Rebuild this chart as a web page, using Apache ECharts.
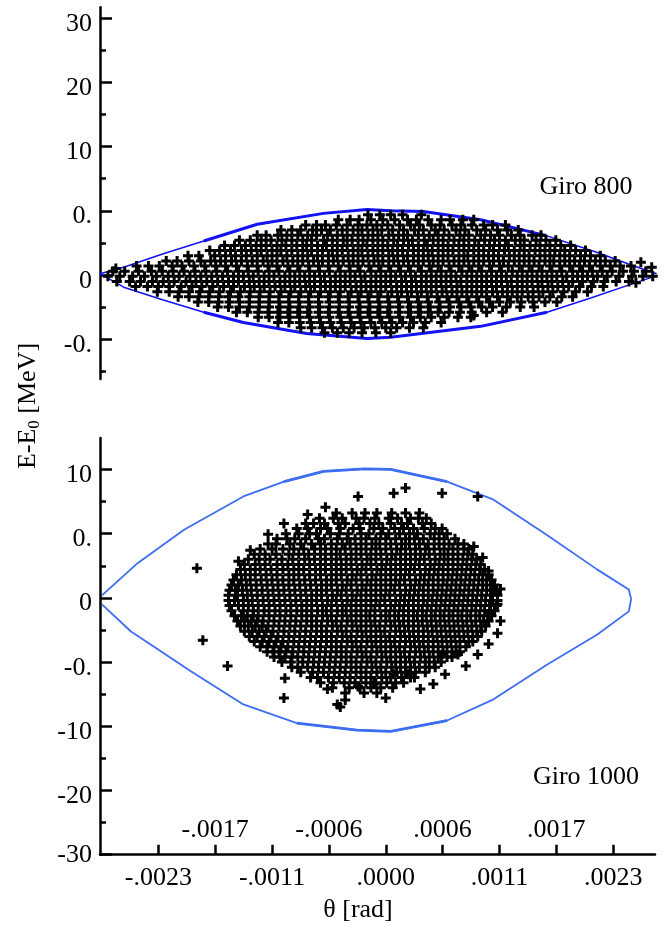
<!DOCTYPE html>
<html>
<head>
<meta charset="utf-8">
<script src="https://cdn.jsdelivr.net/npm/echarts@6/dist/echarts.min.js"></script>
<style>
  html, body { margin: 0; padding: 0; background: #fff; }
  #chart { width: 671px; height: 938px; }
</style>
</head>
<body>
<div id="chart"></div>
<script>
// x is theta in units of 1e-4 rad; y is in panel "slots" (one labelled tick per unit)
const xTickValues = [-23, -17.25, -11.5, -5.75, 0, 5.75, 11.5, 17.25, 23]
const xBelowValues = [-23, -11.5, 0, 11.5, 23]
const xBelowLabels = ['-.0023', '-.0011', '.0000', '.0011', '.0023']
const xAboveValues = [-17.25, -5.75, 5.75, 17.25]
const xAboveLabels = ['-.0017', '-.0006', '.0006', '.0017']

const yTopValues = [-1, 0, 1, 2, 3, 4]
const yTopLabels = ['-0.', '0', '0.', '10', '20', '30']
const yTopMinor = [-1.5, -0.5, 0.5, 1.5, 2.5, 3.5]
const yBotValues = [-4, -3, -2, -1, 0, 1, 2]
const yBotLabels = ['-30', '-20', '-10', '-0.', '0', '0.', '10']
const yBotMinor = [-3.5, -2.5, -1.5, -0.5, 0.5, 1.5]

// separatrix curves
const env800Upper = [[-28.9, 0.02], [-26.5, 0.12], [-22.5, 0.33], [-18.4, 0.53], [-13, 0.79], [-6.3, 0.96], [-1.9, 1.02], [0.5, 1.0], [3.8, 0.99], [9.6, 0.86], [16.3, 0.61], [21.4, 0.35], [25.1, 0.14], [27.4, 0.02]]
const env800Lower = [[-28.9, 0.02], [-26.5, -0.19], [-22.5, -0.39], [-18.4, -0.58], [-14.4, -0.74], [-8, -0.91], [-1.9, -0.99], [0.5, -0.97], [9.6, -0.8], [16.3, -0.58], [20.5, -0.37], [24.7, -0.15], [27.4, -0.01]]
const env1000Upper = [[-28.7, 0.04], [-25.1, 0.54], [-20.4, 1.06], [-14.4, 1.58], [-10.3, 1.81], [-6.3, 1.97], [-2.2, 2.01], [0.5, 2.0], [6.2, 1.81], [10.9, 1.53], [16.3, 0.98], [21.4, 0.44], [24.58, 0.13], [24.82, -0.02]]
const env1000Lower = [[-28.7, -0.1], [-25.8, -0.52], [-19.75, -1.14], [-14.4, -1.66], [-9.0, -1.95], [-2.9, -2.06], [0.5, -2.08], [6.2, -1.91], [10.9, -1.58], [16.3, -1.04], [21.4, -0.57], [24.58, -0.21], [24.82, -0.02]]

// Giro 800 particles, by row: [y, [x, x, ...]]
const giro800Rows = [
  [0.94, [-1.8, -0.6, 0.5, 1.7, 3.6]],
  [0.86, [-4.8, -3.6, -2.7, -1.5, -0.3, 0.9, 2.2, 3.1, 4.3, 5.6, 6.5, 7.8, 8.9]],
  [0.78, [-8.1, -7.0, -6.1, -5.0, -3.9, -2.8, -1.9, -0.9, 0.2, 1.4, 2.5, 3.4, 4.6, 5.5, 6.7, 7.6, 8.7, 9.9, 10.8, 12.1]],
  [0.70, [-10.6, -9.5, -8.6, -7.4, -6.5, -5.6, -4.4, -3.3, -2.4, -1.3, -0.4, 0.7, 1.8, 2.9, 3.8, 5.0, 5.9, 7.1, 8.0, 9.2, 10.1, 11.3, 12.3, 13.4]],
  [0.62, [-13.0, -12.1, -10.9, -10.0, -8.9, -7.9, -7.0, -5.9, -4.9, -3.9, -2.8, -1.8, -0.8, 0.3, 1.3, 2.2, 3.3, 4.4, 5.3, 6.4, 7.5, 8.4, 9.6, 10.6, 11.5, 12.7, 13.6, 14.8, 15.7]],
  [0.54, [-14.8, -13.7, -12.6, -11.6, -10.5, -9.5, -8.4, -7.5, -6.3, -5.4, -4.3, -3.4, -2.3, -1.3, -0.3, 0.8, 1.8, 2.7, 3.9, 4.8, 5.8, 6.9, 7.9, 9.0, 10.0, 11.0, 12.1, 13.1, 14.0, 15.2, 16.2, 17.2]],
  [0.46, [-16.3, -15.3, -14.2, -13.1, -12.1, -11.0, -10.1, -9.0, -8.0, -6.9, -6.0, -4.9, -3.9, -2.8, -1.9, -0.8, 0.2, 1.2, 2.3, 3.3, 4.2, 5.3, 6.3, 7.4, 8.4, 9.4, 10.5, 11.5, 12.4, 13.6, 14.6, 15.6, 16.6, 17.7, 18.7]],
  [0.38, [-17.8, -16.8, -15.7, -14.6, -13.6, -12.6, -11.5, -10.6, -9.5, -8.4, -7.5, -6.4, -5.4, -4.4, -3.3, -2.4, -1.3, -0.3, 0.7, 1.7, 2.8, 3.8, 4.7, 5.8, 6.8, 7.9, 8.9, 9.9, 10.9, 12.0, 13.0, 14.0, 15.1, 16.1, 17.1, 18.1, 19.2, 20.2]],
  [0.30, [-20.0, -18.9, -17.3, -16.2, -15.2, -14.1, -13.0, -12.0, -11.0, -10.0, -8.9, -7.9, -6.9, -5.8, -4.9, -3.8, -2.8, -1.8, -0.8, 0.3, 1.2, 2.2, 3.3, 4.3, 5.3, 6.3, 7.4, 8.3, 9.4, 10.4, 11.4, 12.5, 13.5, 14.5, 15.6, 16.6, 17.6, 18.6, 19.7, 20.7, 21.7]],
  [0.22, [-22.2, -21.1, -19.9, -18.7, -17.7, -16.7, -15.6, -14.6, -13.5, -12.4, -11.5, -10.4, -9.4, -8.4, -7.3, -6.4, -5.3, -4.3, -3.3, -2.3, -1.2, -0.3, 0.8, 1.8, 2.8, 3.8, 4.8, 5.8, 6.9, 7.9, 8.9, 9.9, 10.9, 11.9, 13.0, 14.0, 15.0, 16.1, 17.0, 18.1, 19.1, 20.1, 21.2, 22.2, 23.2]],
  [0.14, [-25.2, -24.0, -22.9, -21.6, -20.6, -19.4, -18.3, -17.2, -16.2, -15.1, -14.0, -13.0, -11.9, -11.0, -9.9, -8.9, -7.8, -6.8, -5.8, -4.8, -3.7, -2.8, -1.7, -0.7, 0.3, 1.3, 2.3, 3.3, 4.4, 5.3, 6.4, 7.4, 8.4, 9.4, 10.5, 11.5, 12.4, 13.5, 14.5, 15.5, 16.6, 17.6, 18.6, 19.6, 20.6, 21.7, 22.7, 23.7, 24.8]],
  [0.06, [-27.6, -26.4, -25.0, -23.7, -22.6, -21.5, -20.4, -19.3, -18.2, -17.1, -16.0, -14.9, -13.9, -12.9, -11.8, -10.8, -9.7, -8.7, -7.7, -6.7, -5.7, -4.6, -3.6, -2.6, -1.5, -0.5, 0.5, 1.5, 2.5, 3.6, 4.6, 5.6, 6.6, 7.7, 8.7, 9.7, 10.7, 11.7, 12.8, 13.8, 14.8, 15.8, 16.8, 17.8, 18.9, 19.9, 20.9, 21.9, 22.9, 24.0, 25.1, 26.3]],
  [-0.02, [-28.1, -26.9, -25.6, -24.4, -23.2, -22.0, -20.9, -19.8, -18.7, -17.6, -16.5, -15.4, -14.4, -13.4, -12.3, -11.3, -10.2, -9.2, -8.2, -7.2, -6.2, -5.1, -4.1, -3.1, -2.1, -1.0, 0.0, 1.0, 2.0, 3.0, 4.1, 5.1, 6.1, 7.1, 8.2, 9.2, 10.2, 11.2, 12.2, 13.3, 14.3, 15.3, 16.3, 17.3, 18.3, 19.4, 20.4, 21.4, 22.4, 23.6, 24.9, 26.0, 27.0]],
  [-0.10, [-27.2, -25.9, -24.8, -23.6, -22.5, -21.4, -20.2, -19.2, -18.1, -17.0, -15.9, -14.9, -13.8, -12.8, -11.8, -10.7, -9.7, -8.7, -7.7, -6.6, -5.6, -4.6, -3.6, -2.5, -1.5, -0.5, 0.5, 1.6, 2.6, 3.6, 4.6, 5.6, 6.6, 7.6, 8.7, 9.7, 10.7, 11.7, 12.7, 13.8, 14.8, 15.8, 16.8, 17.9, 18.9, 19.9, 21.0, 22.1, 23.3, 24.6]],
  [-0.18, [-25.3, -24.1, -23.0, -21.9, -20.7, -19.6, -18.6, -17.5, -16.4, -15.4, -14.3, -13.3, -12.3, -11.2, -10.2, -9.2, -8.1, -7.2, -6.1, -5.1, -4.1, -3.0, -2.0, -1.0, 0.0, 1.1, 2.1, 3.1, 4.1, 5.1, 6.1, 7.2, 8.2, 9.2, 10.2, 11.2, 12.3, 13.3, 14.3, 15.4, 16.4, 17.4, 18.5, 19.6, 20.8, 22.0]],
  [-0.26, [-23.1, -21.9, -20.9, -19.9, -18.8, -17.8, -16.8, -15.7, -14.7, -13.7, -12.7, -11.7, -10.6, -9.6, -8.6, -7.6, -6.6, -5.6, -4.6, -3.5, -2.5, -1.5, -0.5, 0.6, 1.6, 2.6, 3.6, 4.6, 5.7, 6.7, 7.7, 8.7, 9.7, 10.8, 11.8, 12.8, 13.8, 14.9, 15.9, 16.9, 18.0, 19.2, 20.4]],
  [-0.34, [-21.0, -19.9, -18.9, -17.9, -16.9, -15.9, -14.9, -13.8, -12.8, -11.8, -10.8, -9.8, -8.8, -7.8, -6.8, -5.8, -4.8, -3.8, -2.8, -1.8, -0.8, 0.2, 1.2, 2.2, 3.2, 4.2, 5.2, 6.2, 7.2, 8.2, 9.2, 10.2, 11.3, 12.3, 13.3, 14.4, 15.5, 16.6, 17.8, 18.9]],
  [-0.42, [-19.0, -17.9, -16.9, -15.8, -14.8, -13.8, -12.8, -11.8, -10.8, -9.8, -8.8, -7.8, -6.8, -5.7, -4.7, -3.7, -2.7, -1.7, -0.7, 0.3, 1.3, 2.3, 3.3, 4.3, 5.4, 6.4, 7.4, 8.4, 9.4, 10.5, 11.5, 12.6, 13.7, 14.9, 16.1, 17.3]],
  [-0.50, [-17.0, -15.9, -14.8, -13.8, -12.8, -11.8, -10.7, -9.7, -8.7, -7.7, -6.7, -5.7, -4.7, -3.7, -2.6, -1.6, -0.6, 0.4, 1.4, 2.5, 3.5, 4.5, 5.5, 6.5, 7.6, 8.6, 9.7, 10.8, 12.2, 13.6, 15.0]],
  [-0.58, [-15.1, -14.0, -12.9, -11.9, -10.9, -9.9, -8.9, -7.9, -6.8, -5.8, -4.8, -3.8, -2.8, -1.8, -0.8, 0.2, 1.3, 2.3, 3.3, 4.3, 5.3, 6.4, 7.5, 8.7, 10.2, 11.8]],
  [-0.66, [-12.9, -11.8, -10.7, -9.7, -8.7, -7.7, -6.7, -5.7, -4.6, -3.6, -2.6, -1.6, -0.6, 0.4, 1.4, 2.5, 3.5, 4.6, 5.9, 7.3, 8.6]],
  [-0.74, [-10.9, -9.8, -8.7, -7.6, -6.6, -5.6, -4.5, -3.5, -2.5, -1.5, -0.4, 0.6, 1.7, 2.8, 4.0, 5.6]],
  [-0.82, [-8.6, -7.5, -6.4, -5.4, -4.3, -3.2, -2.2, -1.1, 0.0, 1.1, 2.4, 3.8]],
  [-0.90, [-6.2, -4.9, -3.7, -2.4, -1.0, 0.5]]
]
const giro800Extra = [[25.8, 0.2], [26.9, 0.12], [25.3, -0.12], [-27.3, 0.1], [8.9, -0.63]]

// Giro 1000 particles, by row
const giro1000Rows = [
  [1.32, [-5.0, -3.4, -2.1, -0.9, 0.6, 2.0, 3.4]],
  [1.24, [-6.7, -5.3, -4.4, -3.0, -2.2, -1.1, 0.3, 1.2, 2.5, 3.3, 4.1]],
  [1.16, [-8.1, -7.3, -6.2, -4.8, -4.1, -2.7, -1.6, -0.7, 0.5, 1.6, 2.2, 3.7, 4.6]],
  [1.08, [-9.0, -7.9, -6.6, -5.9, -4.6, -3.3, -2.6, -1.2, -0.3, 0.9, 1.8, 2.8, 3.9, 5.0, 5.7]],
  [1.00, [-10.1, -8.8, -7.7, -7.0, -5.6, -4.7, -3.8, -2.5, -1.7, -0.5, 0.3, 1.4, 2.4, 3.2, 4.5, 5.4, 6.2]],
  [0.92, [-11.0, -10.0, -9.2, -8.1, -6.8, -6.2, -4.9, -3.9, -3.1, -2.0, -1.0, 0.0, 1.0, 2.0, 2.9, 3.8, 4.9, 5.9, 7.0]],
  [0.84, [-11.9, -11.1, -9.7, -8.6, -7.5, -6.6, -5.5, -4.4, -3.6, -2.5, -1.4, -0.6, 0.5, 1.6, 2.4, 3.4, 4.3, 5.4, 6.4, 7.3, 7.9]],
  [0.76, [-12.7, -11.5, -10.4, -9.3, -8.3, -7.2, -6.1, -5.0, -4.1, -3.0, -2.0, -1.0, 0.0, 1.1, 2.0, 3.0, 4.0, 4.9, 5.9, 6.8, 7.9, 8.4]],
  [0.68, [-13.3, -12.2, -11.1, -9.8, -8.8, -7.8, -6.6, -5.5, -4.6, -3.5, -2.5, -1.5, -0.5, 0.6, 1.5, 2.5, 3.5, 4.4, 5.5, 6.3, 7.3, 8.3, 8.8]],
  [0.60, [-13.9, -12.8, -11.7, -10.5, -9.4, -8.2, -7.2, -6.1, -5.0, -4.0, -3.0, -1.9, -1.0, 0.1, 1.0, 2.0, 3.0, 3.9, 5.0, 5.9, 6.8, 7.8, 8.7, 9.2]],
  [0.52, [-14.3, -13.2, -12.2, -11.0, -9.9, -8.8, -7.7, -6.6, -5.5, -4.5, -3.5, -2.4, -1.5, -0.4, 0.5, 1.5, 2.5, 3.4, 4.5, 5.4, 6.3, 7.3, 8.2, 9.1, 9.6]],
  [0.44, [-14.7, -13.7, -12.7, -11.6, -10.4, -9.3, -8.3, -7.1, -6.1, -5.0, -4.0, -2.9, -2.0, -0.9, 0.0, 1.0, 2.0, 2.9, 4.0, 4.9, 5.8, 6.8, 7.7, 8.6, 9.5, 10.0]],
  [0.36, [-15.1, -14.2, -13.2, -12.1, -11.0, -9.8, -8.8, -7.7, -6.6, -5.5, -4.5, -3.4, -2.5, -1.4, -0.5, 0.5, 1.5, 2.4, 3.5, 4.4, 5.3, 6.3, 7.2, 8.1, 9.0, 9.8, 10.4]],
  [0.28, [-15.4, -14.6, -13.7, -12.6, -11.5, -10.4, -9.3, -8.2, -7.1, -6.0, -5.0, -3.9, -3.0, -1.9, -1.0, 0.0, 1.0, 1.9, 3.0, 3.9, 4.8, 5.8, 6.7, 7.6, 8.5, 9.4, 10.2, 10.7]],
  [0.20, [-15.6, -14.9, -14.1, -13.1, -12.0, -10.9, -9.8, -8.7, -7.6, -6.5, -5.5, -4.4, -3.5, -2.4, -1.5, -0.5, 0.5, 1.4, 2.5, 3.4, 4.3, 5.3, 6.2, 7.1, 8.0, 8.9, 9.8, 10.6, 11.0]],
  [0.12, [-15.8, -15.2, -14.5, -13.6, -12.5, -11.4, -10.3, -9.2, -8.1, -7.0, -6.0, -4.9, -4.0, -2.9, -2.0, -1.0, 0.0, 0.9, 2.0, 2.9, 3.8, 4.8, 5.7, 6.6, 7.5, 8.4, 9.3, 10.2, 10.9, 11.2]],
  [0.04, [-15.9, -15.0, -14.0, -13.0, -11.9, -10.8, -9.7, -8.6, -7.5, -6.5, -5.4, -4.5, -3.4, -2.5, -1.5, -0.5, 0.4, 1.5, 2.4, 3.3, 4.3, 5.2, 6.1, 7.0, 7.9, 8.8, 9.7, 10.6, 11.3]],
  [-0.04, [-15.9, -15.3, -14.4, -13.5, -12.4, -11.3, -10.2, -9.1, -8.0, -7.0, -5.9, -5.0, -3.9, -3.0, -2.0, -1.0, -0.1, 1.0, 1.9, 2.8, 3.8, 4.7, 5.6, 6.5, 7.4, 8.3, 9.2, 10.1, 10.8, 11.3]],
  [-0.12, [-15.8, -14.9, -13.9, -12.9, -11.8, -10.7, -9.6, -8.5, -7.5, -6.4, -5.5, -4.4, -3.5, -2.5, -1.5, -0.6, 0.5, 1.4, 2.3, 3.3, 4.2, 5.1, 6.0, 6.9, 7.8, 8.7, 9.6, 10.5, 11.2]],
  [-0.20, [-15.6, -14.4, -13.4, -12.3, -11.2, -10.1, -9.0, -8.0, -6.9, -6.0, -4.9, -4.0, -3.0, -2.0, -1.1, 0.0, 0.9, 1.8, 2.8, 3.7, 4.6, 5.5, 6.4, 7.3, 8.2, 9.1, 10.0, 10.6, 11.0]],
  [-0.28, [-15.3, -14.6, -14.0, -13.4, -12.9, -11.8, -10.7, -9.6, -8.5, -7.5, -6.4, -5.5, -4.4, -3.5, -2.5, -1.6, -0.5, 0.4, 1.3, 2.3, 3.2, 4.1, 5.0, 5.9, 6.8, 7.7, 8.6, 9.5, 10.3, 10.7]],
  [-0.36, [-15.0, -14.3, -13.6, -13.0, -12.4, -11.3, -10.2, -9.1, -8.0, -7.0, -5.9, -5.0, -3.9, -3.0, -2.0, -1.1, 0.0, 0.9, 1.8, 2.8, 3.7, 4.6, 5.5, 6.4, 7.3, 8.2, 9.1, 9.9, 10.4]],
  [-0.44, [-14.7, -13.9, -13.2, -12.5, -11.9, -10.8, -9.7, -8.6, -7.5, -6.5, -5.4, -4.5, -3.4, -2.5, -1.5, -0.6, 0.5, 1.4, 2.3, 3.3, 4.2, 5.1, 6.0, 6.9, 7.8, 8.7, 9.6, 10.1]],
  [-0.52, [-14.3, -13.5, -12.8, -12.1, -11.4, -10.3, -9.2, -8.1, -7.0, -6.0, -4.9, -4.0, -2.9, -2.0, -1.0, -0.1, 1.0, 1.9, 2.8, 3.8, 4.7, 5.6, 6.5, 7.4, 8.3, 9.2, 9.7]],
  [-0.60, [-13.8, -13.0, -12.3, -11.6, -10.9, -9.8, -8.7, -7.6, -6.5, -5.5, -4.4, -3.5, -2.4, -1.5, -0.5, 0.4, 1.5, 2.4, 3.3, 4.3, 5.2, 6.1, 7.0, 7.9, 8.8, 9.3]],
  [-0.68, [-13.3, -12.5, -11.8, -11.1, -10.4, -9.3, -8.2, -7.1, -6.0, -5.0, -3.9, -3.0, -1.9, -1.0, 0.0, 0.9, 2.0, 2.9, 3.8, 4.8, 5.7, 6.6, 7.5, 8.4, 8.8]],
  [-0.76, [-12.7, -12.0, -11.3, -10.6, -9.9, -8.8, -7.7, -6.6, -5.5, -4.5, -3.4, -2.5, -1.4, -0.5, 0.5, 1.4, 2.5, 3.4, 4.3, 5.3, 6.2, 7.1, 8.1]],
  [-0.84, [-12.0, -11.4, -10.8, -10.1, -9.4, -8.3, -7.2, -6.1, -5.0, -4.0, -2.9, -2.0, -0.9, 0.0, 1.0, 1.9, 3.0, 3.9, 4.8, 5.8, 6.7, 7.5]],
  [-0.92, [-11.3, -10.7, -10.2, -9.5, -8.9, -7.8, -6.7, -5.6, -4.5, -3.5, -2.4, -1.5, -0.4, 0.5, 1.5, 2.4, 3.5, 4.4, 5.3, 6.2, 6.7]],
  [-1.00, [-10.5, -9.6, -8.4, -7.3, -6.2, -5.1, -4.0, -3.0, -1.9, -1.0, 0.1, 1.0, 2.0, 2.9, 4.0, 4.9, 5.6]],
  [-1.08, [-9.5, -8.9, -7.9, -6.8, -5.7, -4.6, -3.5, -2.5, -1.4, -0.5, 0.6, 1.5, 2.5, 3.4, 4.4, 5.0]],
  [-1.16, [-8.6, -7.4, -6.3, -5.2, -4.1, -3.0, -2.0, -0.9, 0.0, 1.1, 2.0, 3.0, 4.0]],
  [-1.24, [-7.6, -6.9, -5.8, -4.7, -3.6, -2.5, -1.5, -0.4, 0.5, 1.6, 2.5, 2.9]],
  [-1.32, [-6.6, -5.3, -4.2, -3.1, -2.0, -1.0, 0.1, 1.0, 1.8]],
  [-1.40, [-5.4, -3.7, -2.6, -1.5, -0.5, 0.7]],
  [-1.48, [-4.1, -2.2, -0.9]]
]
const giro1000Extra = [
  [-19.1, 0.46], [-18.5, -0.66], [-16.0, -1.06], [-13.7, 0.74], [-11.9, 0.99], [-10.3, 1.16],
  [-7.9, 1.30], [-6.1, 1.41], [-14.9, 0.57], [-10.3, -1.56], [-10.2, -1.25], [-5.9, -1.42],
  [-4.9, -1.66], [-4.1, -1.59], [-4.6, -1.70], [-2.8, 1.58], [0.8, 1.63], [2.0, 1.71], [5.7, 1.63],
  [9.3, 1.58], [9.8, 0.63], [8.9, 0.80], [10.4, 0.42], [11.6, 0.14], [11.3, -0.10], [11.6, -0.36],
  [11.3, -0.55], [10.4, -0.72], [9.3, -0.88], [8.1, -1.06], [7.3, -0.88], [5.7, -0.88], [6.0, -1.19],
  [4.8, -1.34], [3.5, -1.42], [2.3, -1.19], [0.8, -1.19], [0.0, -1.56], [-1.2, -1.34], [-2.8, -1.38]
]

const toPoints = (rows, extra) =>
  rows.flatMap(([y, xs]) => xs.map(x => [x, y])).concat(extra)

const pick = (values, labels) => v => {
  const i = values.findIndex(t => Math.abs(t - v) < 1e-6)
  return i < 0 ? '' : labels[i]
}

const FONT = 'Liberation Serif'
// bold "+" marker, 10 x 10 with 3 px arms
const PLUS = 'path://M3.5,0h3v3.5h3.5v3h-3.5v3.5h-3v-3.5h-3.5v-3h3.5z'
const X_MIN = -28.9
const X_MAX = 27.23
const LABEL_SHIFT = 0.09   // tick labels sit a little below their ticks
const BLUE_800 = '#1212f5'
const BLUE_1000 = '#3d6ef2'
const noLine = { show: false, onZero: false }

function yMain(gridIndex, min, max, values) {
  return {
    type: 'value', gridIndex, min, max, position: 'left',
    axisLine: { show: true, onZero: false, lineStyle: { color: '#000', width: 2.5 } },
    axisTick: { show: true, inside: true, length: 12, customValues: values, lineStyle: { color: '#000', width: 2.5 } },
    axisLabel: { show: false },
    splitLine: { show: false }
  }
}

function yMinor(gridIndex, min, max, values) {
  return {
    type: 'value', gridIndex, min, max, position: 'left',
    axisLine: noLine,
    axisTick: { show: true, inside: true, length: 6, customValues: values, lineStyle: { color: '#000', width: 2.5 } },
    axisLabel: { show: false },
    splitLine: { show: false }
  }
}

function yLabels(gridIndex, min, max, values, labels) {
  const at = values.map(v => Math.max(min, v - LABEL_SHIFT))
  return {
    type: 'value', gridIndex, min, max, position: 'left',
    axisLine: noLine,
    axisTick: { show: false },
    axisLabel: {
      customValues: at, formatter: pick(at, labels),
      color: '#000', fontSize: 26, fontFamily: FONT, margin: 8
    },
    splitLine: { show: false }
  }
}

function envelope(data, color, xIndex, yIndex, width) {
  return {
    type: 'line', xAxisIndex: xIndex, yAxisIndex: yIndex, data,
    symbol: 'none', smooth: false, z: 1,
    lineStyle: { color, width }
  }
}

function cloud(data, xIndex, yIndex) {
  return {
    type: 'scatter', xAxisIndex: xIndex, yAxisIndex: yIndex, z: 2, data,
    symbol: PLUS, symbolSize: 10, itemStyle: { color: '#000', opacity: 1 }
  }
}

const mid = (data, lo, hi) => data.filter(p => p[0] >= lo && p[0] <= hi)

const chart = echarts.init(document.getElementById('chart'))

chart.setOption({
  animation: false,
  backgroundColor: '#fff',
  grid: [
    { left: 100, top: 7.3, width: 555, height: 371.7 },
    { left: 100, top: 438, width: 555, height: 416.7 }
  ],
  xAxis: [
    { type: 'value', gridIndex: 0, min: X_MIN, max: X_MAX, show: false },
    {
      type: 'value', gridIndex: 1, min: X_MIN, max: X_MAX, position: 'bottom',
      axisLine: { show: true, onZero: false, lineStyle: { color: '#000', width: 2.5 } },
      axisTick: { show: true, inside: true, length: 10, customValues: xTickValues, lineStyle: { color: '#000', width: 2.5 } },
      axisLabel: {
        customValues: xBelowValues, formatter: pick(xBelowValues, xBelowLabels),
        color: '#000', fontSize: 26, fontFamily: FONT, margin: 10
      },
      splitLine: { show: false }
    },
    {
      type: 'value', gridIndex: 1, min: X_MIN, max: X_MAX, position: 'bottom',
      axisLine: noLine,
      axisTick: { show: false },
      axisLabel: {
        inside: true, customValues: xAboveValues, formatter: pick(xAboveValues, xAboveLabels),
        color: '#000', fontSize: 26, fontFamily: FONT, margin: 12
      },
      splitLine: { show: false }
    }
  ],
  yAxis: [
    yMain(0, -1.62, 4.17, yTopValues),
    yMinor(0, -1.62, 4.17, yTopMinor),
    yLabels(0, -1.62, 4.17, yTopValues, yTopLabels),
    yMain(1, -4, 2.49, yBotValues),
    yMinor(1, -4, 2.49, yBotMinor),
    yLabels(1, -4, 2.49, yBotValues, yBotLabels)
  ],
  graphic: [
    {
      type: 'text', x: 28, y: 406, rotation: Math.PI / 2,
      style: {
        text: '{a|E-E}{s|0}{a| [MeV]}', align: 'center', verticalAlign: 'middle',
        rich: {
          a: { fontSize: 26, fontFamily: FONT, fill: '#000', lineHeight: 30 },
          s: { fontSize: 17, fontFamily: FONT, fill: '#000', lineHeight: 14, verticalAlign: 'bottom' }
        }
      }
    },
    { type: 'text', x: 358, y: 910, style: { text: 'θ [rad]', font: '26px "Liberation Serif"', fill: '#000', align: 'center', verticalAlign: 'middle' } },
    { type: 'text', x: 586, y: 187, style: { text: 'Giro 800', font: '26px "Liberation Serif"', fill: '#000', align: 'center', verticalAlign: 'middle' } },
    { type: 'text', x: 586, y: 777, style: { text: 'Giro 1000', font: '26px "Liberation Serif"', fill: '#000', align: 'center', verticalAlign: 'middle' } }
  ],
  series: [
    envelope(env800Upper, BLUE_800, 0, 0, 1.5),
    envelope(env800Lower, BLUE_800, 0, 0, 1.5),
    envelope(mid(env800Upper, -18.4, 16.3), BLUE_800, 0, 0, 3),
    envelope(mid(env800Lower, -18.4, 16.3), BLUE_800, 0, 0, 3),
    envelope(env1000Upper, BLUE_1000, 1, 3, 1.8),
    envelope(env1000Lower, BLUE_1000, 1, 3, 1.8),
    envelope(mid(env1000Upper, -10.3, 6.2), BLUE_1000, 1, 3, 2.8),
    envelope(mid(env1000Lower, -10.3, 6.2), BLUE_1000, 1, 3, 2.8),
    cloud(toPoints(giro800Rows, giro800Extra), 0, 0),
    cloud(toPoints(giro1000Rows, giro1000Extra), 1, 3)
  ]
})

window.addEventListener('resize', () => chart.resize())
</script>
</body>
</html>
